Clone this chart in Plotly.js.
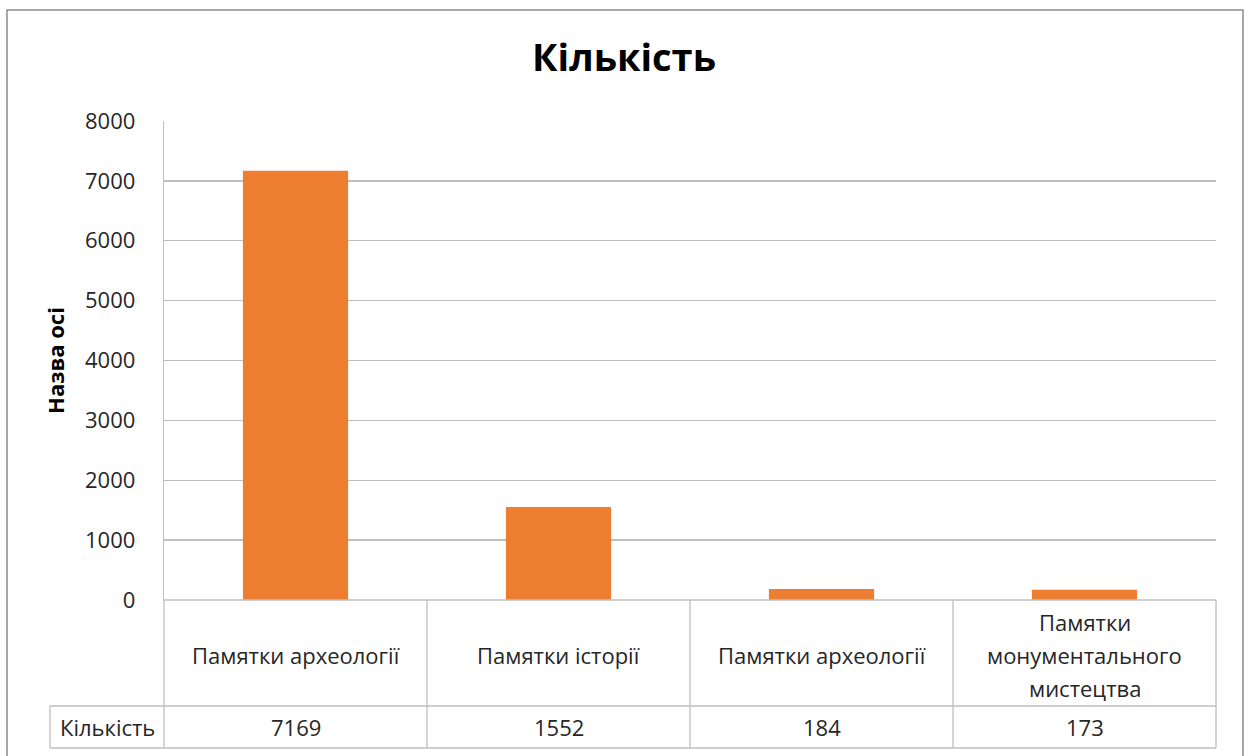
<!DOCTYPE html>
<html>
<head>
<meta charset="utf-8">
<script src="https://cdn.plot.ly/plotly-3.0.1.min.js"></script>
<style>html,body{margin:0;padding:0;background:#fff;}#chart{width:1248px;height:756px;}</style>
</head>
<body>
<div id="chart"></div>
<script>
// ---- data ----
const categories = ["Памятки археології", "Памятки історії", "Памятки археології", "Памятки<br>монументального<br>мистецтва"];
const values = [7169, 1552, 184, 173];
const valueLabels = ["7169", "1552", "184", "173"];
const seriesName = "Кількість";
const chartTitle = "Кількість";
const yTitle = "Назва осі";
const yTicks = [0, 1000, 2000, 3000, 4000, 5000, 6000, 7000, 8000];

// ---- layout geometry (pixels) ----
const W = 1248, H = 756;
const L = 164, R = 1216, T = 121, B = 600;
const pw = R - L, ph = B - T;
const px = x => (x - L) / pw;          // pixel x -> paper x
const py = y => (B - y) / ph;          // pixel y -> paper y
const gridColor = "#bfbfbf";
const textColor = "#262626";
const FONT = "'Open Sans', 'Liberation Sans', sans-serif";

const n = categories.length;
const shapes = [];
const line = (x0, y0, x1, y1, xref) => shapes.push({
  type: "line", xref: xref || "paper", yref: "paper",
  x0: x0, x1: x1, y0: y0, y1: y1,
  line: {color: gridColor, width: 1.3}
});
// table horizontal lines
line(px(L), py(B), px(R), py(B));
line(px(50), py(706), px(R), py(706));
line(px(50), py(748), px(R), py(748));
// table vertical lines
line(px(50), py(706), px(50), py(748));
line(px(L), py(B), px(L), py(748));
for (let i = 1; i < n; i++) line(i - 0.5, py(B), i - 0.5, py(748), "x");
line(px(R), py(B), px(R), py(748));
// outer chart border
shapes.push({type: "rect", xref: "paper", yref: "paper",
  x0: px(7), x1: px(1243), y0: py(765), y1: py(10),
  line: {color: "#8c8c8c", width: 1.5}, fillcolor: "rgba(0,0,0,0)"});

const annotations = [];
const tfont = {family: FONT, size: 22, color: textColor};
categories.forEach((c, i) => {
  const parts = c.split("<br>");
  const lineH = 33;
  parts.forEach((p, k) => {
    const yc = 655 + (k - (parts.length - 1) / 2) * lineH;
    annotations.push({x: i, xref: "x", y: py(yc), yref: "paper", text: p,
      showarrow: false, xanchor: "center", yanchor: "middle", font: tfont});
  });
  annotations.push({x: i, xref: "x", y: py(727), yref: "paper", text: valueLabels[i],
    showarrow: false, xanchor: "center", yanchor: "middle", font: tfont});
});
annotations.push({x: px(107), xref: "paper", y: py(727), yref: "paper", text: seriesName,
  showarrow: false, xanchor: "center", yanchor: "middle", font: tfont});

const trace = {
  type: "bar", x: [0, 1, 2, 3], y: values, name: seriesName,
  marker: {color: "#ED7D31", line: {width: 0}},
  hoverinfo: "skip"
};

const layout = {
  width: W, height: H,
  margin: {l: L, r: W - R, t: T, b: H - B, pad: 0},
  paper_bgcolor: "#fff", plot_bgcolor: "#fff",
  showlegend: false,
  bargap: 0.6,
  title: {text: "<b>" + chartTitle + "</b>", x: 0.5, xanchor: "center", y: 1 - 58 / H, yanchor: "middle",
    font: {family: FONT, size: 38, color: "#000"}},
  xaxis: {range: [-0.5, n - 0.5], showticklabels: false, showgrid: false, zeroline: false,
    showline: false, ticks: "", fixedrange: true},
  yaxis: {range: [0, 8000], tickvals: yTicks, ticktext: yTicks.map(String),
    showgrid: true, gridcolor: gridColor, gridwidth: 1.3, zeroline: false,
    showline: true, linecolor: gridColor, linewidth: 1.3,
    ticks: "", ticklabelstandoff: 23,
    tickfont: {family: FONT, size: 22, color: textColor},
    title: {text: "<b>" + yTitle + "</b>", standoff: 14, font: {family: FONT, size: 22, color: "#000"}},
    fixedrange: true},
  shapes: shapes,
  annotations: annotations
};

Plotly.newPlot("chart", [trace], layout, {displayModeBar: false, staticPlot: true});
</script>
</body>
</html>
